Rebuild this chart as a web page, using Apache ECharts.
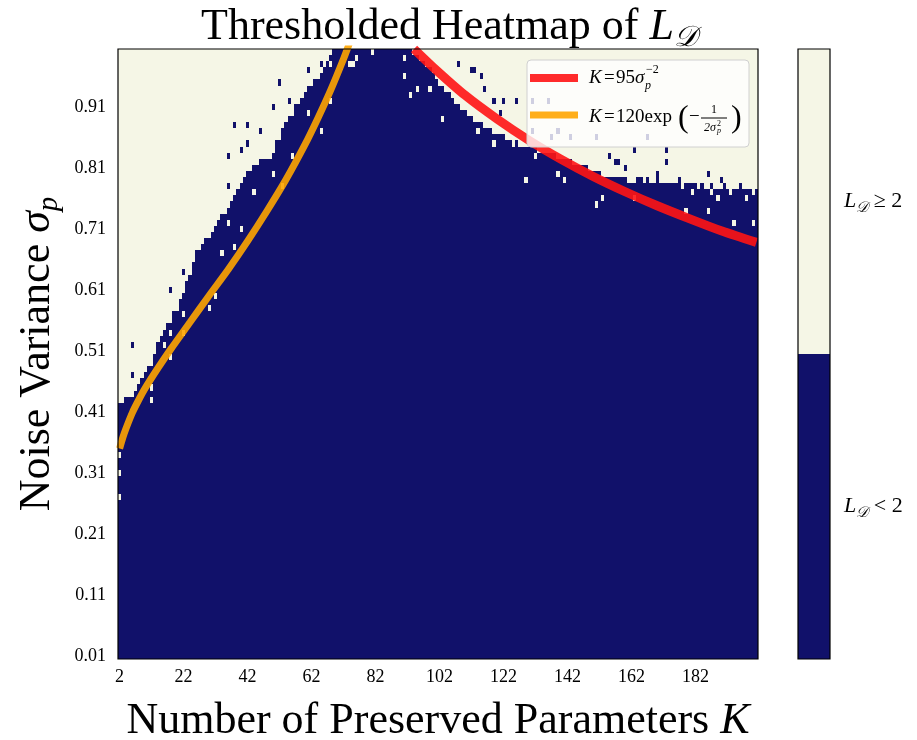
<!DOCTYPE html>
<html>
<head>
<meta charset="utf-8">
<script src="https://cdn.jsdelivr.net/npm/echarts@6/dist/echarts.min.js"></script>
<style>
  html, body { margin: 0; padding: 0; background: #fff; }
  #main { width: 917px; height: 740px; }
</style>
</head>
<body>
<div id="main"></div>
<script>
// ---- data ----
// tick labels
var xTicks = ['2', '22', '42', '62', '82', '102', '122', '142', '162', '182'];
var yTicks = ['0.01', '0.11', '0.21', '0.31', '0.41', '0.51', '0.61', '0.71', '0.81', '0.91'];

// highest dark row (0 -> sigma 0.01, 99 -> sigma 1.00) for each column K = 2..201
var darkTop = [
  41, 41, 42, 42, 42, 43, 44, 45, 46, 47,
  48, 49, 51, 52, 53, 54, 54, 56, 57, 58,
  59, 61, 62, 63, 65, 66, 67, 68, 68, 69,
  70, 71, 72, 72, 73, 74, 75, 76, 77, 78,
  79, 79, 80, 80, 80, 81, 81, 81, 82, 84,
  84, 86, 87, 88, 88, 89, 90, 91, 92, 93,
  93, 94, 94, 95, 96, 97, 98, 99, 99, 99,
  99, 99, 99, 99, 99, 99, 99, 99, 99, 99,
  99, 99, 99, 99, 99, 99, 99, 99, 99, 99,
  99, 99, 98, 98, 97, 97, 96, 96, 95, 94,
  93, 93, 92, 92, 91, 90, 90, 89, 89, 88,
  88, 87, 87, 87, 86, 86, 86, 85, 85, 85,
  85, 84, 84, 84, 84, 83, 83, 83, 83, 83,
  83, 82, 82, 82, 82, 82, 82, 81, 81, 81,
  81, 81, 80, 80, 80, 80, 80, 79, 79, 79,
  79, 78, 78, 78, 78, 78, 78, 78, 78, 77,
  78, 77, 78, 78, 77, 78, 77, 77, 78, 77,
  77, 77, 77, 77, 77, 77, 76, 77, 77, 77,
  77, 76, 77, 76, 76, 77, 76, 76, 76, 77,
  76, 76, 76, 76, 76, 76, 76, 76, 75, 76
];

// isolated cells that go against the boundary: [K, sigma]
var lightSpecks = [
  [20, 0.58], [22, 0.57], [30, 0.58], [18, 0.54], [22, 0.54], [16, 0.52], [18, 0.50],
  [12, 0.49], [12, 0.45], [12, 0.43], [2, 0.34], [2, 0.31], [2, 0.27],
  [44, 0.77], [40, 0.71], [36, 0.72], [34, 0.67], [38, 0.68], [32, 0.60],
  [75, 0.98], [61, 0.90], [65, 0.87], [56, 0.83], [50, 0.80], [53, 0.78],
  [68, 0.92], [68, 0.98],
  [81, 1.00], [76, 0.99], [74, 0.98], [91, 0.99], [91, 0.96], [93, 0.93], [95, 0.94],
  [99, 0.94], [103, 0.89], [114, 0.87], [119, 0.85], [125, 0.85], [129, 0.79],
  [139, 0.80], [141, 0.79], [153, 0.76], [151, 0.75], [132, 0.83],
  [163, 0.76], [179, 0.74], [186, 0.74], [194, 0.72], [200, 0.72], [189, 0.76], [198, 0.76],
  [162, 0.79], [181, 0.77], [187, 0.77], [193, 0.77]
];
var darkSpecks = [
  [6, 0.52], [6, 0.47], [36, 0.83], [40, 0.84], [42, 0.85], [46, 0.87], [42, 0.88],
  [38, 0.88], [46, 0.82], [36, 0.78], [26, 0.67], [25, 0.65], [22, 0.64], [18, 0.61],
  [65, 0.98], [61, 0.97], [52, 0.95], [55, 0.92], [50, 0.91], [57, 0.91],
  [108, 0.98], [112, 0.97], [113, 0.97], [115, 0.96], [116, 0.94], [119, 0.92],
  [122, 0.92], [126, 0.92], [121, 0.90], [131, 0.92], [136, 0.92], [131, 0.87],
  [139, 0.87], [143, 0.86], [137, 0.86], [151, 0.86], [155, 0.83], [157, 0.82],
  [167, 0.86], [163, 0.84], [173, 0.84], [173, 0.82], [186, 0.80], [170, 0.80],
  [158, 0.82], [160, 0.81], [177, 0.79], [190, 0.79], [196, 0.78]
];

// fitted curves, [K, sigma]
var redCurve = [
  [94, 1.005], [100, 0.975], [110, 0.929], [120, 0.890], [130, 0.855], [140, 0.824],
  [150, 0.796], [160, 0.771], [170, 0.748], [180, 0.727], [190, 0.707], [201, 0.688]
];
var orangeCurve = [
  [2, 0.350], [3, 0.368], [4, 0.383], [6, 0.409], [8, 0.430], [10, 0.449], [14, 0.482],
  [18, 0.513], [24, 0.557], [30, 0.601], [36, 0.644], [42, 0.690], [48, 0.739],
  [54, 0.791], [60, 0.849], [64, 0.892], [68, 0.938], [72, 0.989], [74, 1.017]
];

// ---- build ----
var NAVY = '#11116a';
var CREAM = '#f5f6e6';
var FONT = 'Liberation Serif';

var kLabels = [];
for (var k = 2; k <= 201; k++) kLabels.push(String(k));
var sigmaLabels = [];
for (var s = 1; s <= 100; s++) sigmaLabels.push((s / 100).toFixed(2));

var cells = [];
for (var c = 0; c < kLabels.length; c++) {
  for (var r = 0; r < sigmaLabels.length; r++) {
    cells.push([c, r, r <= darkTop[c] ? 0 : 1]);
  }
}
function setCell(p, v) {
  var ci = p[0] - 2, ri = Math.round(p[1] * 100) - 1;
  cells[ci * sigmaLabels.length + ri][2] = v;
}
lightSpecks.forEach(function (p) { setCell(p, 1); });
darkSpecks.forEach(function (p) { setCell(p, 0); });

var mathRich = {
  i: { fontFamily: FONT, fontStyle: 'italic', fontSize: 44, lineHeight: 52 },
  sub: { fontFamily: FONT, fontStyle: 'italic', fontSize: 29, verticalAlign: 'bottom', lineHeight: 52 }
};

// legend pieces, all on top of the plot
function txt(x, y, text, font, extra) {
  var st = { text: text, font: font, fill: '#000', verticalAlign: 'middle' };
  if (extra) for (var key in extra) st[key] = extra[key];
  return { type: 'text', x: x, y: y, z: 100, style: st };
}
var legendParts = [
  { type: 'rect', z: 99, shape: { x: 527, y: 60, width: 222, height: 87, r: 4 },
    style: { fill: 'rgba(255,255,255,0.8)', stroke: '#d0d0d0', lineWidth: 1 } },
  { type: 'line', z: 100, shape: { x1: 530, y1: 78, x2: 578, y2: 78 },
    style: { stroke: 'rgba(255,20,20,0.9)', lineWidth: 8 } },
  { type: 'line', z: 100, shape: { x1: 530, y1: 115, x2: 578, y2: 115 },
    style: { stroke: 'rgba(255,165,0,0.9)', lineWidth: 7 } },
  txt(589, 78, 'K', 'italic 19px ' + FONT),
  txt(604, 78, '=', '19px ' + FONT),
  txt(616, 78, '95', '19px ' + FONT),
  txt(635, 78, 'σ', 'italic 19px ' + FONT),
  txt(645, 86, 'p', 'italic 12px ' + FONT),
  txt(646, 70, '−2', '12px ' + FONT),
  txt(589, 117, 'K', 'italic 19px ' + FONT),
  txt(604, 117, '=', '19px ' + FONT),
  txt(616, 117, '120exp', '19px ' + FONT),
  txt(678, 119, '(', '32px ' + FONT),
  txt(689, 117, '−', '19px ' + FONT),
  { type: 'line', z: 100, shape: { x1: 701, y1: 118, x2: 727, y2: 118 }, style: { stroke: '#000', lineWidth: 1 } },
  txt(714, 110, '1', '12px ' + FONT, { align: 'center' }),
  txt(704, 128, '2σ', 'italic 12px ' + FONT),
  txt(717, 131, 'p', 'italic 8px ' + FONT),
  txt(717, 124, '2', '8px ' + FONT),
  txt(731, 119, ')', '32px ' + FONT)
];

var myChart = echarts.init(document.getElementById('main'));
var option = {
  animation: false,
  backgroundColor: '#fff',
  title: {
    text: 'Thresholded Heatmap of {i|L}{sub|𝒟}',
    left: 444,
    top: -4,
    textAlign: 'center',
    textStyle: {
      fontFamily: FONT, fontSize: 44, fontWeight: 'normal', color: '#000', lineHeight: 52,
      rich: mathRich
    }
  },
  grid: [
    { left: 118, top: 49, width: 640, height: 610, show: true, z: 10, outerBoundsMode: 'none',
      borderColor: '#000', borderWidth: 1.2, backgroundColor: 'transparent' },
    { left: 798, top: 49, width: 32, height: 610, show: true, z: 10, outerBoundsMode: 'none',
      borderColor: '#000', borderWidth: 1.2, backgroundColor: 'transparent' }
  ],
  xAxis: [
    {
      type: 'category', gridIndex: 0, data: kLabels, position: 'bottom',
      name: 'Number of Preserved Parameters {i|K}', nameLocation: 'middle', nameGap: 36,
      nameTextStyle: { fontFamily: FONT, fontSize: 44, color: '#000', lineHeight: 52, rich: mathRich },
      axisLine: { show: false },
      axisTick: { alignWithLabel: true, length: 5, lineStyle: { color: '#000' },
        interval: function (i, v) { return xTicks.indexOf(v) >= 0; } },
      axisLabel: { fontFamily: FONT, fontSize: 18, color: '#000', margin: 9,
        interval: function (i, v) { return xTicks.indexOf(v) >= 0; } },
      splitLine: { show: false }
    },
    { type: 'value', gridIndex: 0, min: 1.5, max: 201.5, show: false },
    { type: 'value', gridIndex: 1, min: 0, max: 1, show: false }
  ],
  yAxis: [
    {
      type: 'category', gridIndex: 0, data: sigmaLabels,
      name: 'Noise Variance {i|σ}{sub|p}', nameLocation: 'middle', nameGap: 51, nameRotate: 90,
      nameTextStyle: { fontFamily: FONT, fontSize: 44, color: '#000', lineHeight: 52, rich: mathRich },
      axisLine: { show: false },
      axisTick: { alignWithLabel: true, length: 5, lineStyle: { color: '#000' },
        interval: function (i, v) { return yTicks.indexOf(v) >= 0; } },
      axisLabel: { fontFamily: FONT, fontSize: 18, color: '#000', margin: 12,
        interval: function (i, v) { return yTicks.indexOf(v) >= 0; } },
      splitLine: { show: false }
    },
    { type: 'value', gridIndex: 0, min: 0.005, max: 1.005, show: false },
    {
      type: 'value', gridIndex: 1, min: 0, max: 2, position: 'right',
      axisLine: { show: false },
      splitLine: { show: false },
      axisTick: { show: true, length: 5, lineStyle: { color: '#000' }, customValues: [0.5, 1, 1.5] },
      axisLabel: {
        customValues: [0.5, 1.5], margin: 14, color: '#000', fontFamily: FONT, fontSize: 22,
        formatter: function (v) {
          return '{i|L}{sub|𝒟}{t|' + (v < 1 ? ' < 2' : ' ≥ 2') + '}';
        },
        rich: {
          i: { fontFamily: FONT, fontStyle: 'italic', fontSize: 22, lineHeight: 28 },
          sub: { fontFamily: FONT, fontStyle: 'italic', fontSize: 15, verticalAlign: 'bottom', lineHeight: 28 },
          t: { fontFamily: FONT, fontSize: 22, lineHeight: 28 }
        }
      }
    }
  ],
  series: [
    {
      // thresholded map: one rect per (K, sigma) cell, snapped to whole pixels
      type: 'custom', xAxisIndex: 0, yAxisIndex: 0, data: cells, progressive: 0,
      renderItem: function (params, api) {
        var p = api.coord([api.value(0), api.value(1)]);
        var sz = api.size([1, 1]);
        var x0 = Math.round(p[0] - sz[0] / 2), x1 = Math.round(p[0] + sz[0] / 2);
        var y0 = Math.round(p[1] - sz[1] / 2), y1 = Math.round(p[1] + sz[1] / 2);
        return {
          type: 'rect',
          shape: { x: x0, y: y0, width: x1 - x0, height: y1 - y0 },
          style: { fill: api.value(2) ? CREAM : NAVY }
        };
      }
    },
    {
      type: 'line', xAxisIndex: 1, yAxisIndex: 1, data: orangeCurve, smooth: 0.3,
      showSymbol: false, clip: true, z: 5,
      lineStyle: { color: 'rgba(255,165,0,0.9)', width: 7 }
    },
    {
      type: 'line', xAxisIndex: 1, yAxisIndex: 1, data: redCurve, smooth: 0.3,
      showSymbol: false, clip: true, z: 5,
      lineStyle: { color: 'rgba(255,20,20,0.9)', width: 9 }
    },
    {
      type: 'custom', xAxisIndex: 2, yAxisIndex: 2, data: [[0, 1, 0], [1, 2, 1]],
      renderItem: function (params, api) {
        var p0 = api.coord([0, api.value(1)]);
        var p1 = api.coord([1, api.value(0)]);
        return {
          type: 'rect',
          shape: { x: p0[0], y: p0[1], width: p1[0] - p0[0], height: p1[1] - p0[1] },
          style: { fill: api.value(2) ? CREAM : NAVY }
        };
      }
    }
  ],
  graphic: legendParts
};
myChart.setOption(option);
</script>
</body>
</html>
